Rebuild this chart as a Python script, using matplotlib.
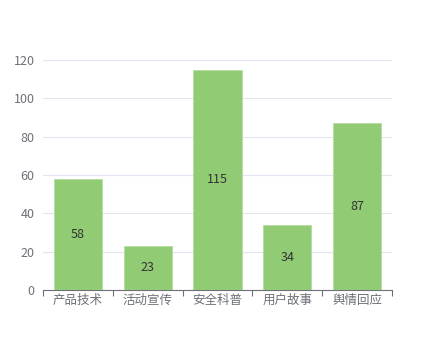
import matplotlib
matplotlib.use("Agg")
import matplotlib.pyplot as plt
import numpy as np

plt.rcParams['font.family'] = ['Noto Sans CJK SC', 'DejaVu Sans']

categories = ["产品技术", "活动宣传", "安全科普", "用户故事", "舆情回应"]
values = [58, 23, 115, 34, 87]

fig = plt.figure(figsize=(4.36, 3.6), dpi=100)
ax = fig.add_axes([43/436, 70/360, 349/436, 230/360])

x = np.arange(len(categories))
bars = ax.bar(x, values, width=0.69, color="#91cc75", edgecolor="#b5dca2", linewidth=0.6, zorder=3)
for b, v in zip(bars, values):
    ax.text(b.get_x() + b.get_width()/2, v/2, str(v), ha="center", va="center",
            fontsize=9, color="#333333", zorder=4)

ax.set_xlim(-0.5, len(categories) - 0.5)
ax.set_ylim(0, 120)
ax.set_yticks(range(0, 121, 20))
ax.yaxis.grid(True, color="#e0e6f1", linewidth=0.8, zorder=0)
ax.tick_params(axis="y", length=0, labelsize=9, labelcolor="#6e7079", pad=6)

ax.set_xticks(x)
ax.set_xticklabels(categories)
ax.set_xticks(np.arange(-0.5, len(categories)), minor=True)
ax.tick_params(axis="x", which="major", length=0, labelsize=9, labelcolor="#6e7079", pad=3)
ax.tick_params(axis="x", which="minor", length=4, color="#6e7079", width=0.8)

for s in ["top", "right", "left"]:
    ax.spines[s].set_visible(False)
ax.spines["bottom"].set_color("#6e7079")
ax.spines["bottom"].set_linewidth(0.8)

fig.savefig("out.png", dpi=100)
